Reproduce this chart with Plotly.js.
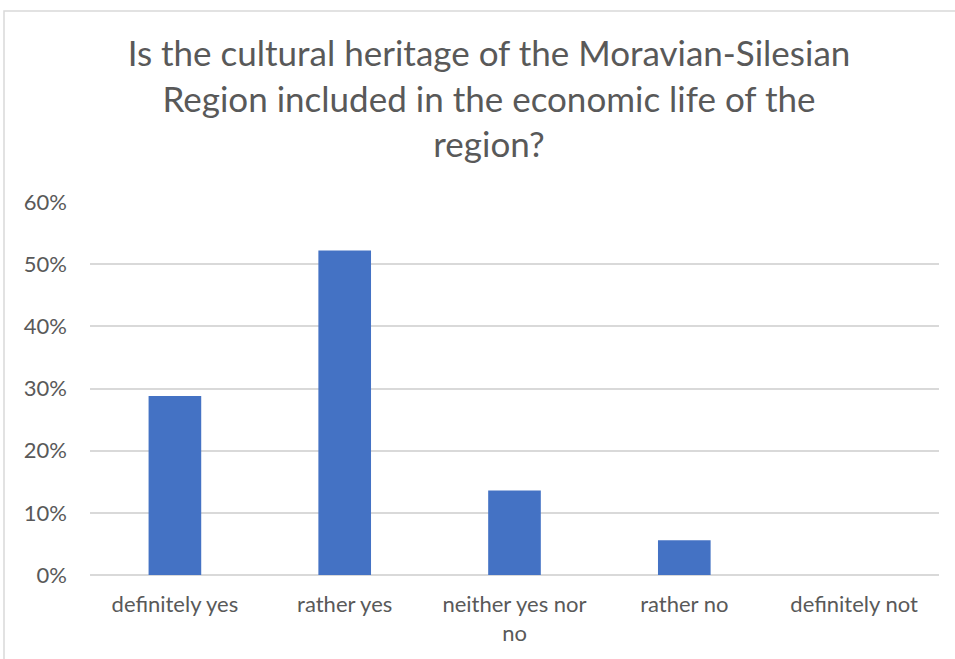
<!DOCTYPE html>
<html>
<head>
<meta charset="utf-8">
<script src="https://cdn.plot.ly/plotly-3.0.1.min.js"></script>
<style>
html,body{margin:0;padding:0;background:#fff;}
#chart{width:955px;height:659px;}
</style>
</head>
<body>
<div id="chart"></div>
<script>
const categories = ["definitely yes", "rather yes", "neither yes nor<br>no", "rather no", "definitely not"];
const shares = [0.288, 0.522, 0.136, 0.056, 0];
const titleText = "Is the cultural heritage of the Moravian-Silesian<br>Region included in the economic life of the<br>region?";

const W = 955, H = 659;
const L = 90, R = 16, T = 202, B = 84;
const pw = W - L - R, ph = H - T - B;
const px = v => (v - L) / pw;
const py = v => (H - B - v) / ph;

const trace = {
  type: "bar",
  x: categories,
  y: shares,
  marker: {color: "#4472C4"},
  hoverinfo: "x+y"
};

const layout = {
  width: W, height: H,
  margin: {l: L, r: R, t: T, b: B},
  paper_bgcolor: "#ffffff",
  plot_bgcolor: "#ffffff",
  font: {family: "Lato, 'Open Sans', sans-serif", color: "#595959", size: 22},
  bargap: 0.69,
  showlegend: false,
  title: {
    text: titleText,
    font: {family: "Lato, sans-serif", size: 35, color: "#595959"},
    x: 489 / W, xref: "container", xanchor: "center",
    y: 1 - 66 / H, yref: "container", yanchor: "top"
  },
  xaxis: {
    type: "category",
    showgrid: false,
    zeroline: false,
    showline: false,
    ticks: "",
    ticklabelstandoff: 14,
    tickfont: {size: 22, color: "#595959"},
    fixedrange: true
  },
  yaxis: {
    range: [0, 0.6],
    dtick: 0.1,
    tick0: 0,
    tickformat: ".0%",
    showgrid: true,
    gridcolor: "#d9d9d9",
    gridwidth: 2,
    zeroline: true,
    zerolinecolor: "#d9d9d9",
    zerolinewidth: 2,
    showline: false,
    ticks: "",
    ticklabelstandoff: 22,
    tickfont: {size: 22, color: "#595959"},
    fixedrange: true
  },
  shapes: [{
    type: "rect", xref: "paper", yref: "paper",
    x0: px(4), x1: px(970), y0: py(670), y1: py(11),
    line: {color: "#d9d9d9", width: 1.5},
    fillcolor: "rgba(0,0,0,0)",
    layer: "below"
  }]
};

Plotly.newPlot("chart", [trace], layout, {displayModeBar: false, staticPlot: true});
</script>
</body>
</html>
